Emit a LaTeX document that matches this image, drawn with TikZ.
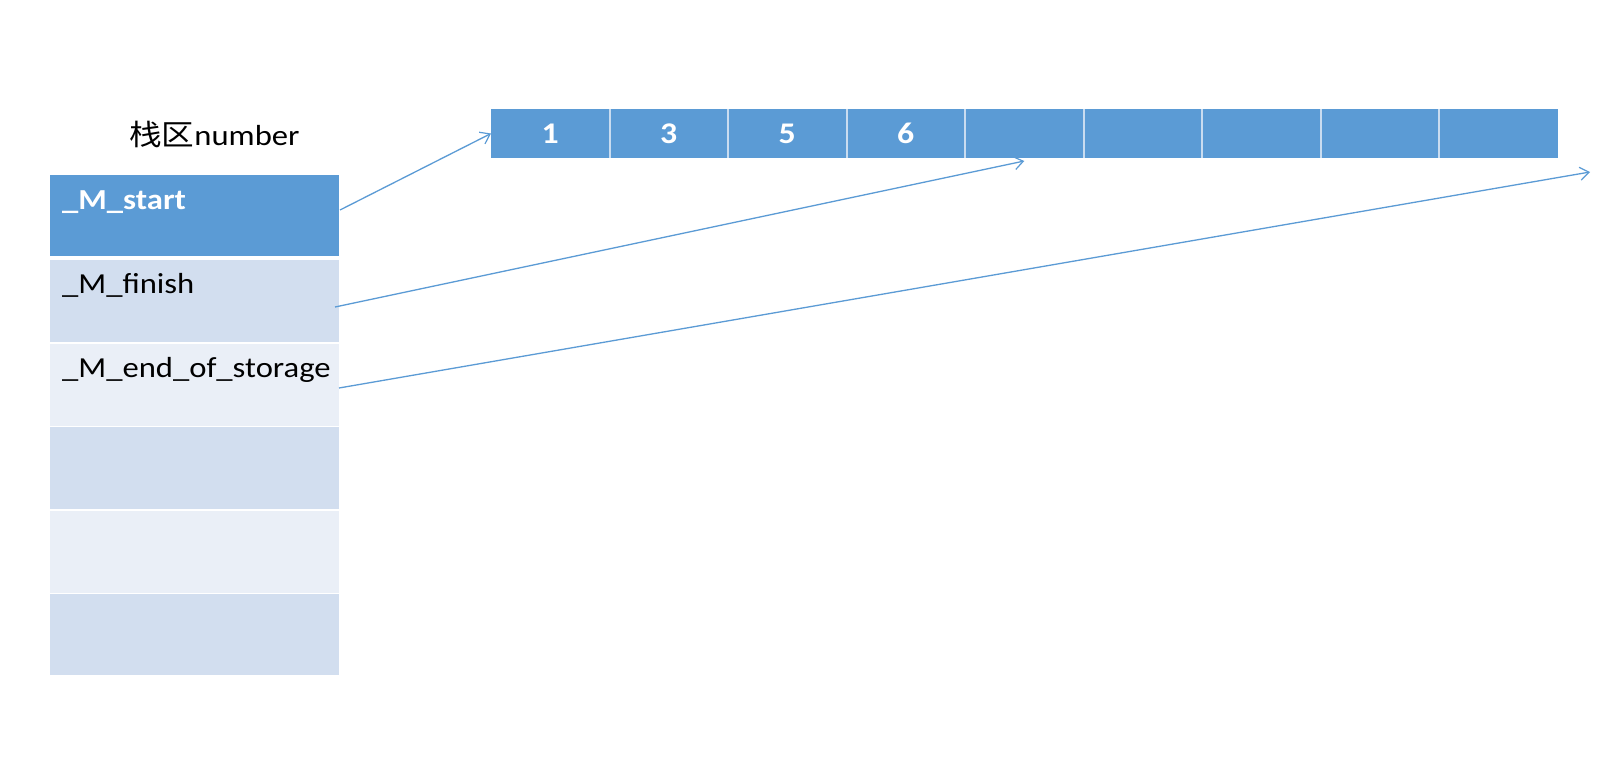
\documentclass[tikz,border=0pt]{standalone}
\usepackage{fontspec}
\setmainfont{Carlito}
\newfontfamily\cjk{Noto Sans CJK SC}
\usetikzlibrary{arrows.meta}
\definecolor{accent}{HTML}{5B9BD5}
\definecolor{bandA}{HTML}{D2DEEF}
\definecolor{bandB}{HTML}{EAEFF7}
\definecolor{sepline}{HTML}{C9DCF0}
\newcommand{\wide}[1]{\scalebox{1.125}[1]{#1}}
\tikzset{
  rowbox/.style={inner sep=0pt, outer sep=0pt, minimum width=289pt, anchor=north west},
  cellbox/.style={fill=accent, inner sep=0pt, outer sep=0pt,
    minimum width=118.5pt, minimum height=49pt, text=white, font=\fontsize{30}{34}\selectfont\bfseries},
  rowtext/.style={anchor=base west, inner sep=0pt, font=\fontsize{29}{33}\selectfont},
  ptr/.style={draw=accent, line width=1.3pt, -{Straight Barb[length=9pt,width=13pt,line width=1.2pt]}}
}
\begin{document}
\begin{tikzpicture}[x=1pt,y=-1pt]
\useasboundingbox (0,0) rectangle (1600,756);
\fill[white] (0,0) rectangle (1600,756);
% label
\node[rowtext] (title) at (129,145) {\wide{{\cjk 栈区}number}};
% stack column rows
\node[rowbox, fill=accent, minimum height=81pt] (start) at (50,175) {};
\node[rowbox, fill=bandA, minimum height=82pt] (finish) at (50,260) {};
\node[rowbox, fill=bandB, minimum height=82pt] (eos) at (50,343.5) {};
\node[rowbox, fill=bandA, minimum height=82pt] (r4) at (50,427) {};
\node[rowbox, fill=bandB, minimum height=82pt] (r5) at (50,510.5) {};
\node[rowbox, fill=bandA, minimum height=81pt] (r6) at (50,594) {};
\node[rowtext, text=white, font=\fontsize{29}{33}\selectfont\bfseries] (tstart) at (62,209) {\wide{\_M\_start}};
\node[rowtext] (tfinish) at (62,293) {\wide{\_M\_finish}};
\node[rowtext] (teos) at (62,377) {\wide{\_M\_end\_of\_storage}};
% array cells
\foreach \i/\t in {1/1,2/3,3/5,4/6,5/{},6/{},7/{},8/{},9/{}} {
  \node[cellbox] (c\i) at ({491+118.5*(\i-0.5)},133.5) {\wide{\t}};
}
\foreach \i in {1,...,8} {
  \draw[sepline, line width=2pt] (c\i.north east) -- (c\i.south east);
}
% pointer ends
\coordinate (sA) at (340,210);
\coordinate (sB) at (335,307);
\coordinate (sC) at (339,388);
\coordinate (endC) at (1590,172);
\draw[ptr] (sA) -- (c1.west);
\draw[ptr] (sB) -- ([yshift=-3pt]c5.south);
\draw[ptr] (sC) -- (endC);
\end{tikzpicture}
\end{document}
